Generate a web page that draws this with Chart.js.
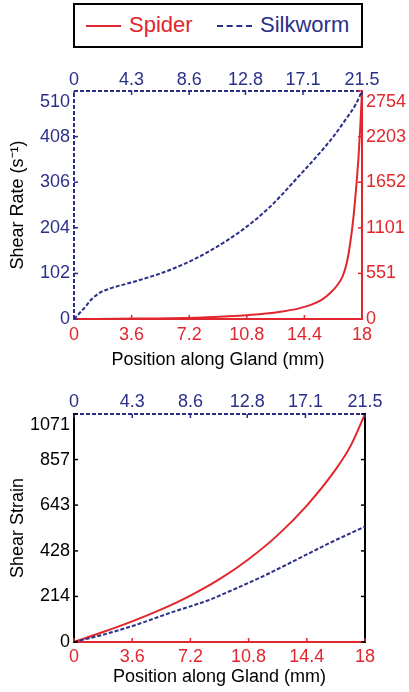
<!DOCTYPE html>
<html>
<head>
<meta charset="utf-8">
<script src="https://cdn.jsdelivr.net/npm/chart.js@4/dist/chart.umd.min.js"></script>
<style>
  body { margin: 0; width: 409px; height: 692px; background: #fff; position: relative; overflow: hidden; font-family: 'Liberation Sans', Arial, sans-serif; }
  canvas { position: absolute; left: 0; }
  #legend-box { position: absolute; left: 73px; top: 3px; width: 290px; height: 45px; border: 2px solid #000; box-sizing: border-box; }
  .leg-line { position: absolute; width: 35px; height: 0; top: 25px; }
  .leg-text { position: absolute; top: 14px; font-size: 22px; line-height: 1; }
</style>
</head>
<body>
<div id="legend-box"></div>
<div class="leg-line" style="left:86px;border-top:2px solid #e1262d"></div>
<span class="leg-text" style="left:129px;color:#e1262d">Spider</span>
<div class="leg-line" style="left:217px;border-top:2px dashed #2a3088"></div>
<span class="leg-text" style="left:260px;color:#2a3088">Silkworm</span>

<canvas id="rateChart" width="409" height="323" style="top:50px"></canvas>
<canvas id="strainChart" width="409" height="319" style="top:373px"></canvas>

<script>
const RED = '#e1262d';
const BLUE = '#2a3088';

// tick labels
const spiderPosTicks = [0, 3.6, 7.2, 10.8, 14.4, 18];
const silkPosTicks = [0, 4.3, 8.6, 12.8, 17.1, 21.5];
const silkRateTicks = [0, 102, 204, 306, 408, 510];
const spiderRateTicks = [0, 551, 1101, 1652, 2203, 2754];
const strainTicks = [0, 214, 428, 643, 857, 1071];

// shear rate - silkworm (top axis mm, left axis)
const silkRateX = [0, 0.69, 1.31, 1.94, 2.68, 4.67, 6.65, 8.14, 10.13, 12.6, 14.6, 16.83, 18.07, 19.31, 20.3, 21.05, 21.5];
const silkRateY = [0, 22, 44, 59, 68, 85, 104, 122, 152, 200, 250, 321, 362, 406, 447, 481, 510];

// shear rate - spider (bottom axis mm, right axis)
const spiderRateX = [0, 4, 8, 10, 12, 13, 14, 14.8, 15.5, 16, 16.5, 16.8, 17.05, 17.25, 17.45, 17.62, 17.78, 17.9, 18];
const spiderRateY = [0, 5, 18, 35, 65, 90, 125, 170, 235, 310, 420, 520, 680, 900, 1200, 1550, 1950, 2350, 2754];

// shear strain
const spiderStrainX = [0, 1.8, 3.6, 5.4, 7.2, 9, 10.8, 12.6, 14.4, 16.2, 17.1, 18];
const spiderStrainY = [0, 47, 97, 153, 218, 295, 389, 502, 641, 812, 920, 1071];
const silkStrainX = [0, 2.13, 4.6, 7.06, 10.0, 11.73, 14.2, 16.66, 19.12, 21.5];
const silkStrainY = [0, 34, 81, 136, 198, 245, 316, 394, 472, 542];

Chart.defaults.font.family = "'Liberation Sans', Arial, sans-serif";
Chart.defaults.font.size = 18;

function points(xs, ys) {
    return xs.map((x, i) => ({ x: x, y: ys[i] }));
}

// inward tick marks, plus the dashed box edges (Chart.js border.dash only dashes grid lines)
const boxDecor = {
    id: 'boxDecor',
    afterDraw(chart, args, opts) {
        const ctx = chart.ctx;
        const a = chart.chartArea;
        const dashed = opts.dashed || [];
        Object.entries(chart.scales).forEach(([id, scale]) => {
            const color = opts.colors[id];
            ctx.save();
            ctx.strokeStyle = color;
            if (dashed.includes(id)) {
                ctx.lineWidth = 2;
                ctx.setLineDash([4, 2]);
                ctx.beginPath();
                if (scale.position === 'left') { ctx.moveTo(a.left, a.bottom); ctx.lineTo(a.left, a.top); }
                else if (scale.position === 'top') { ctx.moveTo(a.left, a.top); ctx.lineTo(a.right, a.top); }
                ctx.stroke();
                ctx.setLineDash([]);
            }
            ctx.lineWidth = 1.5;
            scale.ticks.forEach(t => {
                const p = scale.getPixelForValue(t.value);
                ctx.beginPath();
                if (scale.position === 'left') { ctx.moveTo(a.left, p); ctx.lineTo(a.left + 4, p); }
                else if (scale.position === 'right') { ctx.moveTo(a.right, p); ctx.lineTo(a.right - 4, p); }
                else if (scale.position === 'top') { ctx.moveTo(p, a.top); ctx.lineTo(p, a.top + 4); }
                else { ctx.moveTo(p, a.bottom); ctx.lineTo(p, a.bottom - 4); }
                ctx.stroke();
            });
            ctx.restore();
        });
    }
};

// one axis; size is forced so the plot box lands where it should
function axis(pos, min, max, ticks, color, size, extra) {
    const s = {
        type: 'linear',
        position: pos,
        min: min,
        max: max,
        grid: { display: false, drawTicks: false },
        border: { display: !extra.dashed, color: color, width: 2 },
        ticks: {
            display: extra.labels !== false,
            color: color,
            padding: extra.pad,
            autoSkip: false,
            maxRotation: 0,
            // push the top label of a y axis down a little, like the original
            callback: (v) => (pos === 'left' || pos === 'right') && v === max ? ['', String(v)] : String(v)
        },
        afterBuildTicks: (sc) => { sc.ticks = ticks.map(v => ({ value: v })); },
        afterFit: (sc) => {
            if (pos === 'left' || pos === 'right') sc.width = size; else sc.height = size;
        }
    };
    if (extra.title) {
        s.title = { display: true, text: extra.title, color: '#000', font: { size: 18 }, padding: extra.titlePad };
    }
    return s;
}

function lineSet(label, data, color, dashed, xId, yId) {
    return {
        label: label,
        data: data,
        xAxisID: xId,
        yAxisID: yId,
        showLine: true,
        borderColor: color,
        borderWidth: 2,
        borderDash: dashed ? [4, 2] : [],
        pointRadius: 0,
        cubicInterpolationMode: 'monotone',
        fill: false
    };
}

function baseOptions(decor, scales) {
    return {
        responsive: false,
        animation: false,
        devicePixelRatio: 1,
        layout: { padding: 0 },
        plugins: { legend: { display: false }, tooltip: { enabled: false }, boxDecor: decor },
        scales: scales
    };
}

new Chart(document.getElementById('rateChart'), {
    type: 'scatter',
    data: {
        datasets: [
            lineSet('Silkworm', points(silkRateX, silkRateY), BLUE, true, 'x2', 'y'),
            lineSet('Spider', points(spiderRateX, spiderRateY), RED, false, 'x', 'y2')
        ]
    },
    options: baseOptions(
        { dashed: ['x2', 'y'], colors: { x: RED, x2: BLUE, y: BLUE, y2: RED } },
        {
            x: axis('bottom', 0, 18, spiderPosTicks, RED, 54, { pad: 5, title: 'Position along Gland (mm)', titlePad: { top: 0, bottom: 2 } }),
            x2: axis('top', 0, 21.5, silkPosTicks, BLUE, 41, { pad: 0, dashed: true }),
            y: axis('left', 0, 510, silkRateTicks, BLUE, 74, { pad: 4, dashed: true, title: 'Shear Rate (s\u207B\u00B9)', titlePad: { top: 7, bottom: 0 } }),
            y2: axis('right', 0, 2754, spiderRateTicks, RED, 47, { pad: 4 })
        }),
    plugins: [boxDecor]
});

new Chart(document.getElementById('strainChart'), {
    type: 'scatter',
    data: {
        datasets: [
            lineSet('Silkworm', points(silkStrainX, silkStrainY), BLUE, true, 'x2', 'y'),
            lineSet('Spider', points(spiderStrainX, spiderStrainY), RED, false, 'x', 'y')
        ]
    },
    options: baseOptions(
        { dashed: ['x2'], colors: { x: RED, x2: BLUE, y: '#000', y2: '#000' } },
        {
            x: axis('bottom', 0, 18, spiderPosTicks, RED, 50, { pad: 4, title: 'Position along Gland (mm)', titlePad: { top: 0, bottom: 4 } }),
            x2: axis('top', 0, 21.5, silkPosTicks, BLUE, 41, { pad: 1, dashed: true }),
            y: axis('left', 0, 1071, strainTicks, '#000', 74, { pad: 4, title: 'Shear Strain', titlePad: { top: 7, bottom: 0 } }),
            y2: axis('right', 0, 1071, strainTicks, '#000', 44, { pad: 4, labels: false })
        }),
    plugins: [boxDecor]
});
</script>
</body>
</html>
